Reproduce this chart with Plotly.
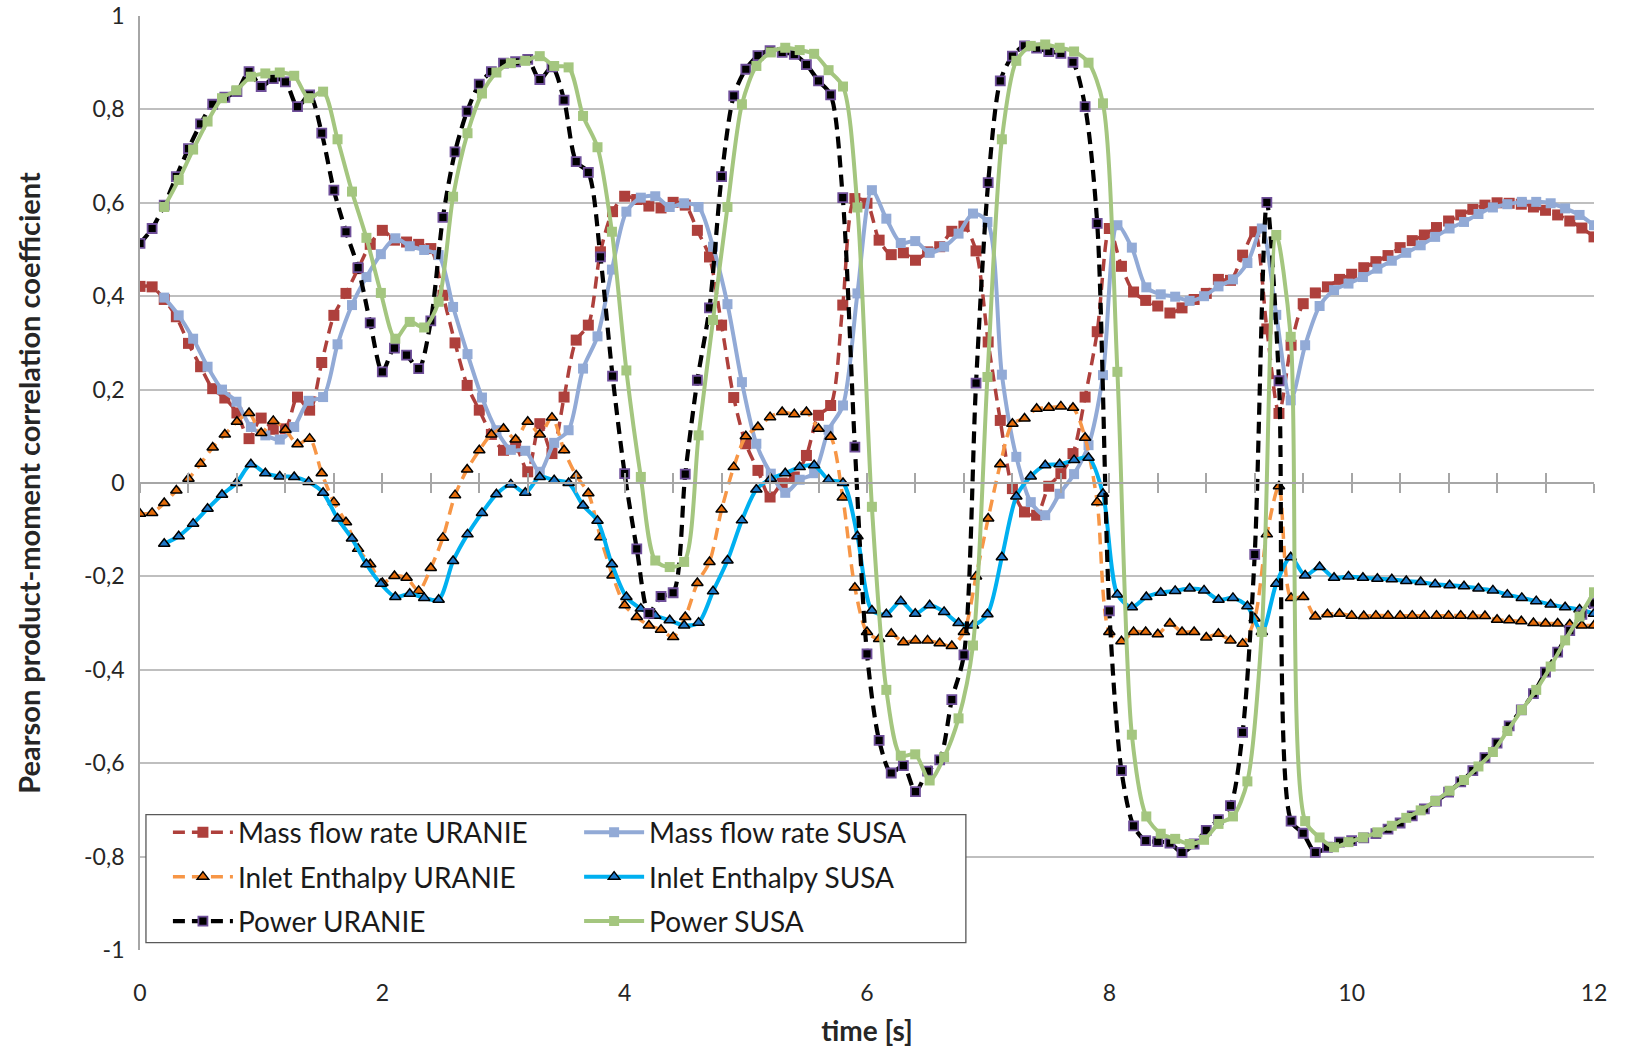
import numpy as np
import plotly.graph_objects as go

# ---- time grids -------------------------------------------------------------
t_uranie = np.round(np.arange(121) * 0.1, 2)          # 0.0 ... 12.0 s
t_susa = np.linspace(0.2, 12.0, 100)                  # 0.2 ... 12.0 s

# ---- correlation coefficients ----------------------------------------------
mass_uranie = [
    0.421, 0.420, 0.393, 0.356, 0.299, 0.249, 0.202, 0.182, 0.150, 0.095,
    0.139, 0.115, 0.116, 0.184, 0.156, 0.258, 0.359, 0.406, 0.459, 0.511,
    0.541, 0.520, 0.516, 0.511, 0.502, 0.402, 0.300, 0.209, 0.156, 0.104,
    0.070, 0.077, 0.024, 0.127, 0.063, 0.184, 0.306, 0.338, 0.495, 0.581,
    0.614, 0.607, 0.593, 0.589, 0.601, 0.595, 0.541, 0.484, 0.338, 0.183,
    0.084, 0.027, -0.030, 0.000, 0.013, 0.059, 0.145, 0.166, 0.381, 0.609,
    0.599, 0.520, 0.489, 0.493, 0.477, 0.495, 0.506, 0.539, 0.550, 0.497,
    0.302, 0.134, -0.012, -0.062, -0.069, -0.007, 0.020, 0.063, 0.184, 0.324,
    0.545, 0.464, 0.409, 0.391, 0.379, 0.364, 0.375, 0.393, 0.406, 0.436,
    0.434, 0.488, 0.538, 0.330, 0.149, 0.295, 0.384, 0.407, 0.420, 0.436,
    0.447, 0.461, 0.474, 0.487, 0.504, 0.519, 0.531, 0.547, 0.561, 0.574,
    0.586, 0.595, 0.600, 0.599, 0.597, 0.591, 0.584, 0.574, 0.561, 0.546, 0.527,
]

mass_susa = [
    0.397, 0.359, 0.309, 0.249, 0.200, 0.174, 0.120, 0.102, 0.093, 0.120,
    0.176, 0.184, 0.297, 0.381, 0.441, 0.490, 0.524, 0.507, 0.499, 0.488,
    0.377, 0.276, 0.183, 0.113, 0.071, 0.069, 0.024, 0.086, 0.113, 0.245,
    0.314, 0.457, 0.581, 0.611, 0.614, 0.591, 0.599, 0.591, 0.506, 0.383,
    0.216, 0.084, 0.020, -0.021, 0.007, 0.021, 0.114, 0.166, 0.406, 0.627,
    0.566, 0.514, 0.518, 0.493, 0.506, 0.534, 0.577, 0.559, 0.232, 0.056,
    -0.041, -0.069, -0.023, 0.019, 0.081, 0.231, 0.552, 0.504, 0.419, 0.404,
    0.399, 0.390, 0.400, 0.421, 0.436, 0.471, 0.545, 0.360, 0.177, 0.295,
    0.379, 0.413, 0.427, 0.441, 0.459, 0.476, 0.493, 0.509, 0.527, 0.545,
    0.559, 0.576, 0.590, 0.597, 0.602, 0.602, 0.599, 0.588, 0.574, 0.552,
]

inlet_uranie = [
    -0.066, -0.064, -0.043, -0.016, 0.009, 0.041, 0.076, 0.104, 0.131, 0.150,
    0.107, 0.133, 0.114, 0.083, 0.095, 0.021, -0.041, -0.084, -0.141, -0.174,
    -0.214, -0.199, -0.203, -0.231, -0.182, -0.117, -0.026, 0.029, 0.070, 0.104,
    0.116, 0.093, 0.131, 0.104, 0.140, 0.070, 0.016, -0.022, -0.116, -0.198,
    -0.262, -0.287, -0.305, -0.314, -0.330, -0.287, -0.214, -0.169, -0.057, 0.034,
    0.100, 0.120, 0.141, 0.152, 0.147, 0.152, 0.116, 0.099, -0.031, -0.224,
    -0.319, -0.334, -0.323, -0.341, -0.337, -0.337, -0.343, -0.349, -0.319, -0.200,
    -0.076, 0.040, 0.127, 0.138, 0.159, 0.161, 0.164, 0.161, 0.097, -0.041,
    -0.319, -0.339, -0.319, -0.319, -0.324, -0.301, -0.319, -0.319, -0.331, -0.323,
    -0.337, -0.344, -0.290, -0.110, -0.007, -0.246, -0.244, -0.286, -0.281, -0.280,
    -0.284, -0.285, -0.284, -0.284, -0.284, -0.284, -0.284, -0.284, -0.284, -0.284,
    -0.285, -0.285, -0.293, -0.294, -0.296, -0.300, -0.301, -0.301, -0.303, -0.305, -0.305,
]

inlet_susa = [
    -0.130, -0.114, -0.087, -0.055, -0.025, 0.000, 0.040, 0.021, 0.014, 0.013,
    0.002, -0.021, -0.076, -0.119, -0.174, -0.216, -0.244, -0.237, -0.246, -0.250,
    -0.167, -0.110, -0.064, -0.024, -0.003, -0.021, 0.013, 0.006, 0.000, -0.048,
    -0.081, -0.174, -0.244, -0.269, -0.284, -0.294, -0.305, -0.299, -0.232, -0.166,
    -0.080, -0.014, 0.009, 0.021, 0.034, 0.038, 0.007, 0.000, -0.114, -0.273,
    -0.281, -0.253, -0.280, -0.262, -0.276, -0.300, -0.305, -0.281, -0.159, -0.029,
    0.014, 0.038, 0.040, 0.049, 0.054, -0.023, -0.239, -0.266, -0.244, -0.235,
    -0.231, -0.226, -0.230, -0.250, -0.246, -0.264, -0.319, -0.216, -0.159, -0.198,
    -0.180, -0.203, -0.200, -0.203, -0.205, -0.206, -0.210, -0.212, -0.217, -0.219,
    -0.221, -0.226, -0.230, -0.239, -0.246, -0.253, -0.260, -0.266, -0.271, -0.280,
]

power_uranie = [
    0.513, 0.545, 0.595, 0.656, 0.716, 0.769, 0.811, 0.826, 0.838, 0.881,
    0.849, 0.866, 0.859, 0.806, 0.831, 0.749, 0.627, 0.538, 0.461, 0.343,
    0.238, 0.289, 0.274, 0.245, 0.347, 0.569, 0.709, 0.796, 0.854, 0.881,
    0.899, 0.902, 0.907, 0.864, 0.891, 0.820, 0.688, 0.665, 0.484, 0.229,
    0.020, -0.141, -0.279, -0.243, -0.235, 0.019, 0.220, 0.375, 0.656, 0.829,
    0.886, 0.915, 0.926, 0.922, 0.918, 0.896, 0.861, 0.831, 0.611, 0.077,
    -0.366, -0.551, -0.621, -0.605, -0.661, -0.617, -0.593, -0.464, -0.368, 0.214,
    0.643, 0.861, 0.914, 0.936, 0.931, 0.924, 0.920, 0.901, 0.806, 0.556,
    -0.274, -0.616, -0.734, -0.766, -0.768, -0.771, -0.791, -0.773, -0.744, -0.721,
    -0.691, -0.534, -0.153, 0.601, 0.219, -0.724, -0.750, -0.791, -0.780, -0.769,
    -0.766, -0.760, -0.751, -0.741, -0.728, -0.713, -0.698, -0.681, -0.662, -0.640,
    -0.616, -0.588, -0.557, -0.520, -0.486, -0.451, -0.405, -0.362, -0.316, -0.281, -0.257,
]

power_susa = [
    0.591, 0.649, 0.714, 0.774, 0.824, 0.841, 0.870, 0.877, 0.879, 0.872,
    0.824, 0.838, 0.736, 0.624, 0.525, 0.407, 0.309, 0.345, 0.333, 0.388,
    0.613, 0.749, 0.834, 0.879, 0.899, 0.904, 0.914, 0.893, 0.890, 0.786,
    0.719, 0.538, 0.241, 0.013, -0.166, -0.180, -0.169, 0.102, 0.349, 0.591,
    0.811, 0.893, 0.922, 0.932, 0.927, 0.919, 0.884, 0.849, 0.590, -0.051,
    -0.443, -0.584, -0.581, -0.637, -0.587, -0.504, -0.348, 0.227, 0.736, 0.904,
    0.936, 0.939, 0.932, 0.924, 0.900, 0.813, 0.238, -0.539, -0.714, -0.751,
    -0.762, -0.773, -0.764, -0.730, -0.714, -0.639, -0.319, 0.531, 0.313, -0.724,
    -0.759, -0.780, -0.769, -0.759, -0.748, -0.734, -0.717, -0.701, -0.681, -0.659,
    -0.636, -0.607, -0.576, -0.531, -0.486, -0.443, -0.393, -0.337, -0.286, -0.234,
]

# ---- axis ticks -------------------------------------------------------------
x_ticks = [0, 2, 4, 6, 8, 10, 12]
y_ticks = [1, 0.8, 0.6, 0.4, 0.2, 0, -0.2, -0.4, -0.6, -0.8, -1]
y_tick_labels = ["1", "0,8", "0,6", "0,4", "0,2", "0", "-0,2", "-0,4", "-0,6", "-0,8", "-1"]

FONT = "Lato, Carlito, 'Open Sans', sans-serif"
GRID = "#BFBFBF"
AXIS = "#A6A6A6"
SMOOTH = 0.8

fig = go.Figure()

def add_series(x, y, name, legend, line, marker):
    fig.add_trace(go.Scatter(
        x=x, y=y, name=name, mode="lines+markers",
        line=dict(shape="spline", smoothing=SMOOTH, **line),
        marker=marker, legend=legend, legendgroup=name,
        hoverinfo="x+y+name",
    ))

add_series(t_uranie, mass_uranie, "Mass flow rate URANIE", "legend",
           dict(color="#AE403C", width=3.5, dash="12px,7px"),
           dict(symbol="square", size=11, color="#AE403C"))
add_series(t_susa, mass_susa, "Mass flow rate SUSA", "legend2",
           dict(color="#92AAD6", width=4),
           dict(symbol="square", size=10, color="#92AAD6"))
add_series(t_uranie, inlet_uranie, "Inlet Enthalpy URANIE", "legend",
           dict(color="#F79646", width=3.5, dash="12px,7px"),
           dict(symbol="triangle-up", size=10, color="#E46C0A",
                line=dict(color="#000000", width=1.5)))
add_series(t_susa, inlet_susa, "Inlet Enthalpy SUSA", "legend2",
           dict(color="#00B0F0", width=4),
           dict(symbol="triangle-up", size=10, color="#1F78C8",
                line=dict(color="#000000", width=1.5)))
add_series(t_uranie, power_uranie, "Power URANIE", "legend",
           dict(color="#000000", width=4.2, dash="12px,7px"),
           dict(symbol="square", size=9, color="#000000",
                line=dict(color="#6F4F9A", width=1.8)))
add_series(t_susa, power_susa, "Power SUSA", "legend2",
           dict(color="#A4C67F", width=4),
           dict(symbol="square", size=10, color="#A4C67F"))

# empty traces that carry the crossing axis at y = 0
fig.add_trace(go.Scatter(x=[], y=[], xaxis="x2", showlegend=False, hoverinfo="skip"))
fig.add_trace(go.Scatter(x=[], y=[], xaxis="x3", showlegend=False, hoverinfo="skip"))

tick_font = dict(family=FONT, size=23, color="#262626")
title_font = dict(family=FONT, size=28, color="#262626")
legend_font = dict(family=FONT, size=28, color="#1A1A1A")

cross_axis = dict(overlaying="x", anchor="free", position=0.5, range=[0, 12],
                  tick0=0, dtick=0.4, ticklen=9, tickwidth=1.5, tickcolor=AXIS,
                  showticklabels=False, showgrid=False, zeroline=False,
                  showline=True, linecolor=AXIS, linewidth=1.5, automargin=False)

fig.update_layout(
    width=1626, height=1047,
    margin=dict(l=140, r=32, t=16, b=97, autoexpand=False),
    paper_bgcolor="white", plot_bgcolor="white",
    font=dict(family=FONT, color="#262626"),
    showlegend=True,
    xaxis=dict(range=[0, 12], tickvals=x_ticks, ticktext=[str(v) for v in x_ticks],
               showgrid=False, zeroline=False, showline=False, automargin=False,
               ticks="outside", ticklen=22, tickcolor="rgba(0,0,0,0)",
               tickfont=tick_font,
               title=dict(text="<b>time [s]</b>", font=title_font, standoff=18)),
    xaxis2=dict(cross_axis, ticks="outside"),
    xaxis3=dict(cross_axis, ticks="inside"),
    yaxis=dict(range=[-1, 1], tickvals=y_ticks, ticktext=y_tick_labels,
               showgrid=True, gridcolor=GRID, gridwidth=1.8, zeroline=False,
               showline=True, linecolor=AXIS, linewidth=1.8, automargin=False,
               ticks="outside", ticklen=9, tickcolor="rgba(0,0,0,0)",
               tickfont=tick_font,
               title=dict(text="<b>Pearson product-moment correlation coefficient</b>",
                          font=dict(title_font, size=29), standoff=35)),
    legend=dict(x=0.0192, y=0.1525, xanchor="left", yanchor="top",
                bgcolor="rgba(0,0,0,0)", borderwidth=0, itemwidth=60,
                tracegroupgap=5, font=legend_font),
    legend2=dict(x=0.302, y=0.1525, xanchor="left", yanchor="top",
                 bgcolor="rgba(0,0,0,0)", borderwidth=0, itemwidth=60,
                 tracegroupgap=5, font=legend_font),
    shapes=[dict(type="rect", xref="paper", yref="paper",
                 x0=0.0041, x1=0.568, y0=0.0079, y1=0.145,
                 fillcolor="white", line=dict(color="#595959", width=1.3),
                 layer="above")],
)

fig.write_html("out.html", post_script="document.body.style.margin='0';")
